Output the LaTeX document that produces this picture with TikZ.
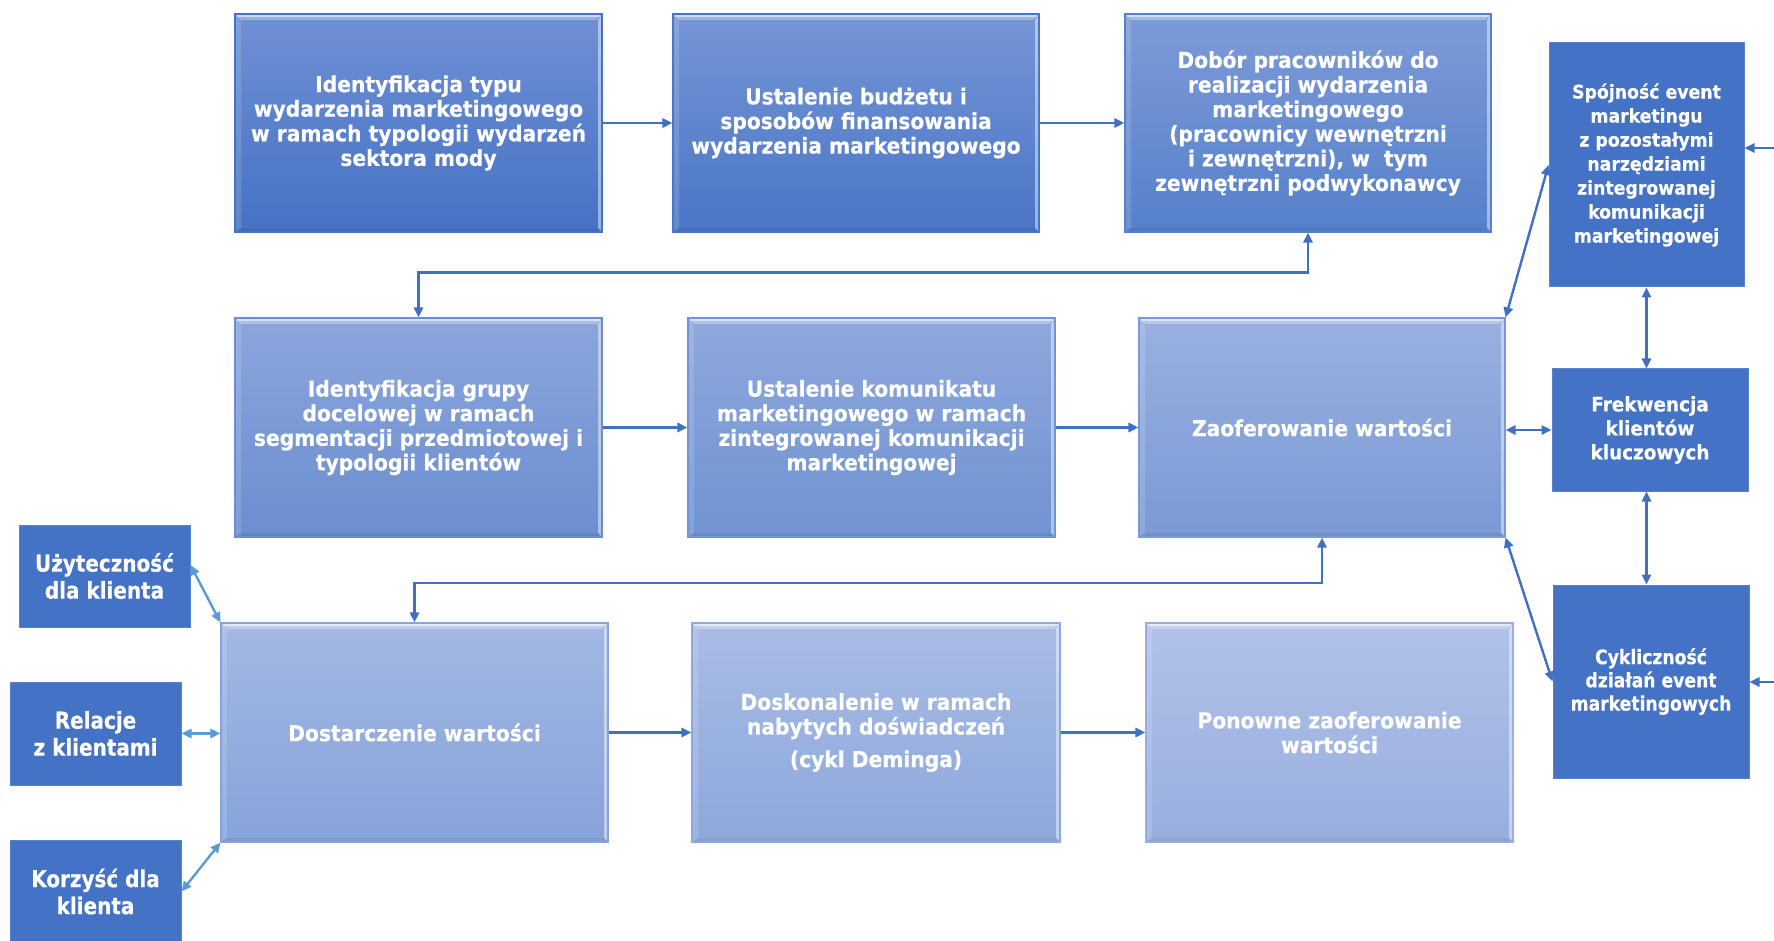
\documentclass[tikz,border=0pt]{standalone}
\usepackage{fontspec}
\setmainfont{DejaVu Sans}
\newfontfamily\fa{DejaVu Sans}[UprightFont=* Bold, FakeStretch=0.92, FakeBold=0.4]
\newfontfamily\fb{DejaVu Sans}[UprightFont=* Bold, FakeStretch=0.86, FakeBold=0.4]
\usetikzlibrary{arrows.meta,shadings}
\definecolor{solidblue}{HTML}{4472C4}
\definecolor{solidedge}{HTML}{5A82CB}
\definecolor{arrowblue}{HTML}{4170C2}
\definecolor{lightarrow}{HTML}{5B9BD5}
\definecolor{tA}{HTML}{6F90D5}\definecolor{bA}{HTML}{4672C4}
\definecolor{tB}{HTML}{7595D6}\definecolor{bB}{HTML}{4A76C6}
\definecolor{tC}{HTML}{7E9BD8}\definecolor{bC}{HTML}{5580CA}
\definecolor{tD}{HTML}{8CA6DC}\definecolor{bD}{HTML}{6A8ECF}
\definecolor{tE}{HTML}{8FA8DD}\definecolor{bE}{HTML}{7093D1}
\definecolor{tF}{HTML}{9AB0E0}\definecolor{bF}{HTML}{7A9AD5}
\definecolor{tG}{HTML}{A3B8E3}\definecolor{bG}{HTML}{86A3DA}
\definecolor{tH}{HTML}{A8BCE5}\definecolor{bH}{HTML}{8DA8DC}
\definecolor{tI}{HTML}{B0C2E7}\definecolor{bI}{HTML}{97AEDE}
\tikzset{
  bevel/.style={path picture={
    \path (path picture bounding box.north west) coordinate (pnw)
          (path picture bounding box.north east) coordinate (pne)
          (path picture bounding box.south west) coordinate (psw)
          (path picture bounding box.south east) coordinate (pse);
    \fill[white,opacity=.30] (pnw) -- (pne) -- ([shift={(-3pt,-3pt)}]pne) -- ([shift={(3pt,-3pt)}]pnw) -- cycle;
    \fill[white,opacity=.14] (pnw) -- ([shift={(3pt,-3pt)}]pnw) -- ([shift={(3pt,2pt)}]psw) -- (psw) -- cycle;
    \fill[white,opacity=.45] (pne) -- ([shift={(-2pt,-3pt)}]pne) -- ([shift={(-2pt,2pt)}]pse) -- (pse) -- cycle;
    \fill[black,opacity=.06] (psw) -- ([shift={(3pt,2pt)}]psw) -- ([shift={(-2pt,2pt)}]pse) -- (pse) -- cycle;
    \draw[white,opacity=.55,line width=.7pt] ([shift={(1pt,-1pt)}]pnw) -- ([shift={(-1pt,-1pt)}]pne);
  }},
  mainbox/.style 2 args={rectangle, inner sep=0pt, align=center, text=white,
    top color=#1, bottom color=#2, draw=#2, line width=.6pt, bevel,
    font=\fa\fontsize{11}{12.3}\selectfont},
  solidbox/.style={rectangle, inner sep=0pt, align=center, text=white,
    fill=solidblue, draw=solidedge, line width=.5pt},
  rfont/.style={font=\fa\fontsize{9.4}{12}\selectfont},
  ffont/.style={font=\fa\fontsize{10}{12}\selectfont},
  cfont/.style={font=\fb\fontsize{10}{11.6}\selectfont},
  lfont/.style={font=\fb\fontsize{11.6}{13.5}\selectfont},
  arr/.style={draw=arrowblue, line width=1.2pt, -{Triangle[length=5pt,width=4.6pt]}},
  darr/.style={draw=arrowblue, line width=1.2pt, {Triangle[length=5pt,width=4.6pt]}-{Triangle[length=5pt,width=4.6pt]}},
  larr/.style={draw=lightarrow, line width=1.2pt, {Triangle[length=5pt,width=4.6pt]}-{Triangle[length=5pt,width=4.6pt]}},
}
\begin{document}
\begin{tikzpicture}[x=0.5pt,y=-0.5pt]
\useasboundingbox (0,0) rectangle (1774,941);
% row 1
\node[mainbox={tA}{bA}, minimum width=183.5pt, minimum height=109pt] (b1) at (418.5,123)
  {Identyfikacja typu\\wydarzenia marketingowego\\w ramach typologii wydarzeń\\sektora mody};
\node[mainbox={tB}{bB}, minimum width=183pt, minimum height=109pt] (b2) at (856,123)
  {Ustalenie budżetu i\\sposobów finansowania\\wydarzenia marketingowego};
\node[mainbox={tC}{bC}, minimum width=183pt, minimum height=109pt] (b3) at (1308,123)
  {Dobór pracowników do\\realizacji wydarzenia\\marketingowego\\(pracownicy wewnętrzni\\i zewnętrzni), w\ \ tym\\zewnętrzni podwykonawcy};
% row 2
\node[mainbox={tD}{bD}, minimum width=183.5pt, minimum height=109.5pt] (b4) at (418.5,427.5)
  {Identyfikacja grupy\\docelowej w ramach\\segmentacji przedmiotowej i\\typologii klientów};
\node[mainbox={tE}{bE}, minimum width=183.5pt, minimum height=109.5pt] (b5) at (871.5,427.5)
  {Ustalenie komunikatu\\marketingowego w ramach\\zintegrowanej komunikacji\\marketingowej};
\node[mainbox={tF}{bF}, minimum width=183pt, minimum height=109.5pt] (b6) at (1322,427.5)
  {Zaoferowanie wartości};
% row 3
\node[mainbox={tG}{bG}, minimum width=193.5pt, minimum height=109.5pt] (b7) at (414.5,732.5)
  {Dostarczenie wartości};
\node[mainbox={tH}{bH}, minimum width=184pt, minimum height=109.5pt] (b8) at (876,732.5)
  {Doskonalenie w ramach\\nabytych doświadczeń\\[4pt](cykl Deminga)};
\node[mainbox={tI}{bI}, minimum width=183.5pt, minimum height=109.5pt] (b9) at (1329.5,732.5)
  {Ponowne zaoferowanie\\wartości};
% right column
\node[solidbox, rfont, minimum width=97.5pt, minimum height=122pt] (r1) at (1646.5,165)
  {Spójność event\\marketingu\\z pozostałymi\\narzędziami\\zintegrowanej\\komunikacji\\marketingowej};
\node[solidbox, ffont, minimum width=98pt, minimum height=61pt] (r2) at (1650,430)
  {Frekwencja\\klientów\\kluczowych};
\node[solidbox, cfont, minimum width=98pt, minimum height=96.5pt] (r3) at (1651,681.5)
  {Cykliczność\\działań event\\marketingowych};
% left column
\node[solidbox, lfont, minimum width=85.5pt, minimum height=51pt] (l1) at (104.5,576)
  {Użyteczność\\dla klienta};
\node[solidbox, lfont, minimum width=85.5pt, minimum height=51.5pt] (l2) at (95.5,733.5)
  {Relacje\\z klientami};
\node[solidbox, lfont, minimum width=85.5pt, minimum height=51pt] (l3) at (95.5,891.5)
  {Korzyść dla\\klienta};
% helper coordinates
\coordinate (c1) at (418.5,272.7);
\coordinate (c2) at (414.5,582.7);
\coordinate (e1) at (1774,148);
\coordinate (e2) at (1774,682);
% connectors
\draw[arr] (b1.east) -- (b2.west);
\draw[arr] (b2.east) -- (b3.west);
\draw[darr] (b3.south) |- (c1) -- (b4.north);
\draw[arr] (b4.east) -- (b5.west);
\draw[arr] (b5.east) -- (b6.west);
\draw[darr] (b6.south) |- (c2) -- (b7.north);
\draw[arr] (b7.east) -- (b8.west);
\draw[arr] (b8.east) -- (b9.west);
\draw[darr] (b6.north east) -- (r1.west);
\draw[darr] (b6.east |- r2.west) -- (r2.west);
\draw[darr] (b6.south east) -- (r3.west);
\draw[darr] (r1.south) -- (r1.south |- r2.north);
\draw[darr] (r1.south |- r2.south) -- (r1.south |- r3.north);
\draw[arr] (e1) -- (r1.east |- e1);
\draw[arr] (e2) -- (r3.east |- e2);
\draw[larr] ([yshift=5.5pt]l1.east) -- (b7.north west);
\draw[larr] (l2.east) -- (b7.west |- l2.east);
\draw[larr] (l3.east) -- (b7.south west);
\end{tikzpicture}
\end{document}
